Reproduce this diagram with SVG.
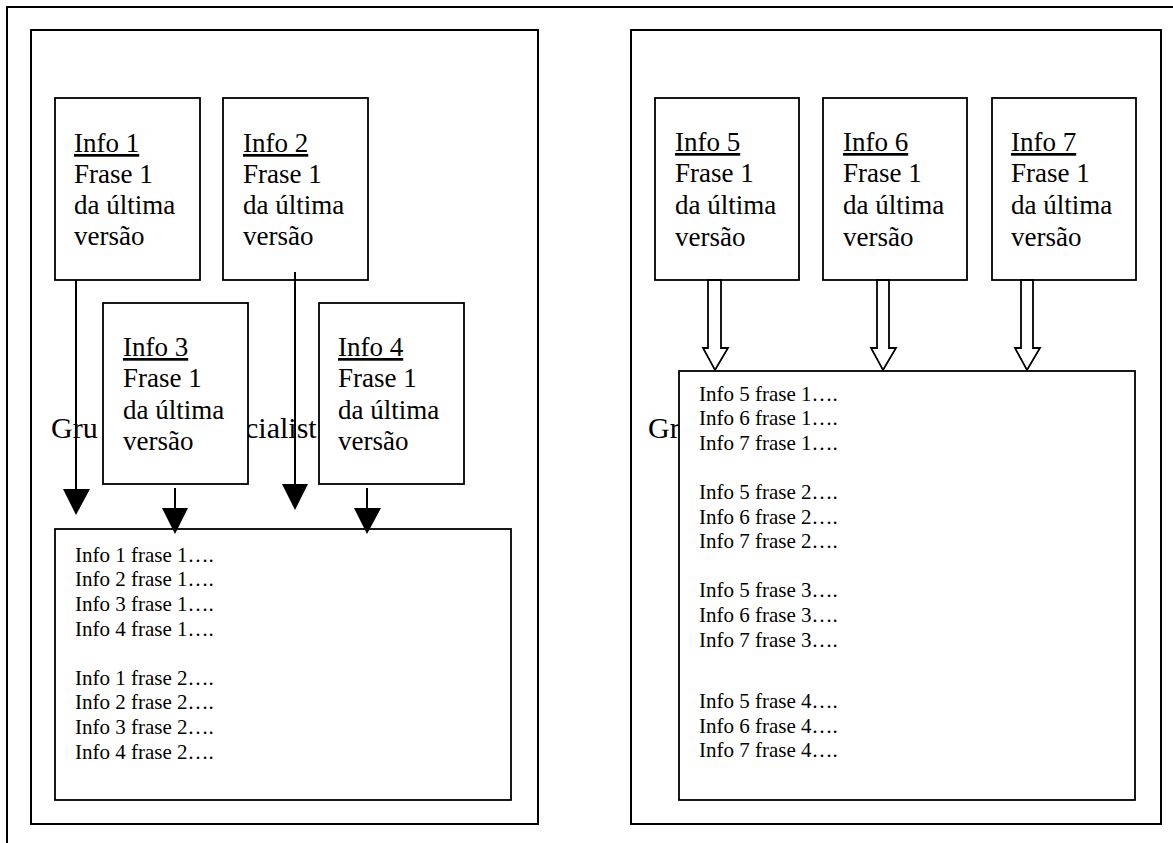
<svg xmlns="http://www.w3.org/2000/svg" width="1173" height="843" viewBox="0 0 1173 843">
<style>
.frame{fill:none;stroke:#000;stroke-width:2}
.panel{fill:#fff;stroke:#000;stroke-width:2}
.box{fill:#fff;stroke:#000;stroke-width:1.8}
.t{font-family:"Liberation Serif","Times New Roman",serif;fill:#000}
.big{font-size:27px}
.head{font-size:30px}
.small{font-size:21px}
.u{text-decoration:underline}
.ln{stroke:#000;stroke-width:2;fill:none}
.head-fill{fill:#000;stroke:none}
.hollow{fill:#fff;stroke:#000;stroke-width:1.8;stroke-linejoin:miter}
</style>
<rect x="0" y="0" width="1173" height="843" fill="#fff"/>
<rect class="frame" x="7" y="7" width="1200" height="900"/>

<g id="panel-left">
  <rect class="panel" x="31" y="30" width="507" height="794"/>
  <text class="t head" x="51" y="438">Gru</text>
  <text class="t head" x="245" y="438">cialist</text>
</g>
<g id="panel-right">
  <rect class="panel" x="631" y="30" width="530" height="794"/>
  <text class="t head" x="648" y="438">Gr</text>
</g>

<g id="info1">
  <rect class="box" x="55" y="98" width="145" height="182"/>
  <text class="t big"><tspan class="u" x="74" y="152">Info 1</tspan><tspan x="74" y="183">Frase 1</tspan><tspan x="74" y="214">da última</tspan><tspan x="74" y="245">versão</tspan></text>
</g>
<g id="info2">
  <rect class="box" x="223" y="98" width="145" height="182"/>
  <text class="t big"><tspan class="u" x="243" y="152">Info 2</tspan><tspan x="243" y="183">Frase 1</tspan><tspan x="243" y="214">da última</tspan><tspan x="243" y="245">versão</tspan></text>
</g>
<g id="info3">
  <rect class="box" x="103" y="303" width="145" height="181"/>
  <text class="t big"><tspan class="u" x="123" y="356">Info 3</tspan><tspan x="123" y="387">Frase 1</tspan><tspan x="123" y="419">da última</tspan><tspan x="123" y="450">versão</tspan></text>
</g>
<g id="info4">
  <rect class="box" x="319" y="303" width="145" height="181"/>
  <text class="t big"><tspan class="u" x="338" y="356">Info 4</tspan><tspan x="338" y="387">Frase 1</tspan><tspan x="338" y="419">da última</tspan><tspan x="338" y="450">versão</tspan></text>
</g>
<g id="summary-left">
  <rect class="box" x="55" y="529" width="456" height="271"/>
  <text class="t small">
    <tspan x="75" y="562">Info 1 frase 1….</tspan>
    <tspan x="75" y="586">Info 2 frase 1….</tspan>
    <tspan x="75" y="611">Info 3 frase 1….</tspan>
    <tspan x="75" y="636">Info 4 frase 1….</tspan>
    <tspan x="75" y="685">Info 1 frase 2….</tspan>
    <tspan x="75" y="709">Info 2 frase 2….</tspan>
    <tspan x="75" y="734">Info 3 frase 2….</tspan>
    <tspan x="75" y="759">Info 4 frase 2….</tspan>
  </text>
</g>

<g id="info5">
  <rect class="box" x="655" y="98" width="144" height="182"/>
  <text class="t big"><tspan class="u" x="675" y="151">Info 5</tspan><tspan x="675" y="182">Frase 1</tspan><tspan x="675" y="214">da última</tspan><tspan x="675" y="246">versão</tspan></text>
</g>
<g id="info6">
  <rect class="box" x="823" y="98" width="144" height="182"/>
  <text class="t big"><tspan class="u" x="843" y="151">Info 6</tspan><tspan x="843" y="182">Frase 1</tspan><tspan x="843" y="214">da última</tspan><tspan x="843" y="246">versão</tspan></text>
</g>
<g id="info7">
  <rect class="box" x="992" y="98" width="144" height="182"/>
  <text class="t big"><tspan class="u" x="1011" y="151">Info 7</tspan><tspan x="1011" y="182">Frase 1</tspan><tspan x="1011" y="214">da última</tspan><tspan x="1011" y="246">versão</tspan></text>
</g>
<g id="summary-right">
  <rect class="box" x="679" y="371" width="456" height="429"/>
  <text class="t small">
    <tspan x="699" y="401">Info 5 frase 1….</tspan>
    <tspan x="699" y="425">Info 6 frase 1….</tspan>
    <tspan x="699" y="450">Info 7 frase 1….</tspan>
    <tspan x="699" y="499">Info 5 frase 2….</tspan>
    <tspan x="699" y="524">Info 6 frase 2….</tspan>
    <tspan x="699" y="548">Info 7 frase 2….</tspan>
    <tspan x="699" y="597">Info 5 frase 3….</tspan>
    <tspan x="699" y="622">Info 6 frase 3….</tspan>
    <tspan x="699" y="647">Info 7 frase 3….</tspan>
    <tspan x="699" y="708">Info 5 frase 4….</tspan>
    <tspan x="699" y="733">Info 6 frase 4….</tspan>
    <tspan x="699" y="757">Info 7 frase 4….</tspan>
  </text>
</g>

<g id="connectors">
  <line class="ln" x1="76" y1="280" x2="76" y2="490"/>
  <polygon class="head-fill" points="63,489 90,489 76,515"/>
  <line class="ln" x1="295" y1="272" x2="295" y2="485"/>
  <polygon class="head-fill" points="282,484 308,484 295,510"/>
  <line class="ln" x1="175" y1="488" x2="175" y2="509"/>
  <polygon class="head-fill" points="162,508 188,508 175,534"/>
  <line class="ln" x1="367" y1="488" x2="367" y2="509"/>
  <polygon class="head-fill" points="354,508 381,508 367,534"/>
  <polygon class="hollow" points="708,280 721,280 721,348 728,348 715,370 703,348 708,348"/>
  <polygon class="hollow" points="877,280 889,280 889,348 896,348 883,370 871,348 877,348"/>
  <polygon class="hollow" points="1021,280 1033,280 1033,348 1040,348 1027,370 1015,348 1021,348"/>
</g>
</svg>
